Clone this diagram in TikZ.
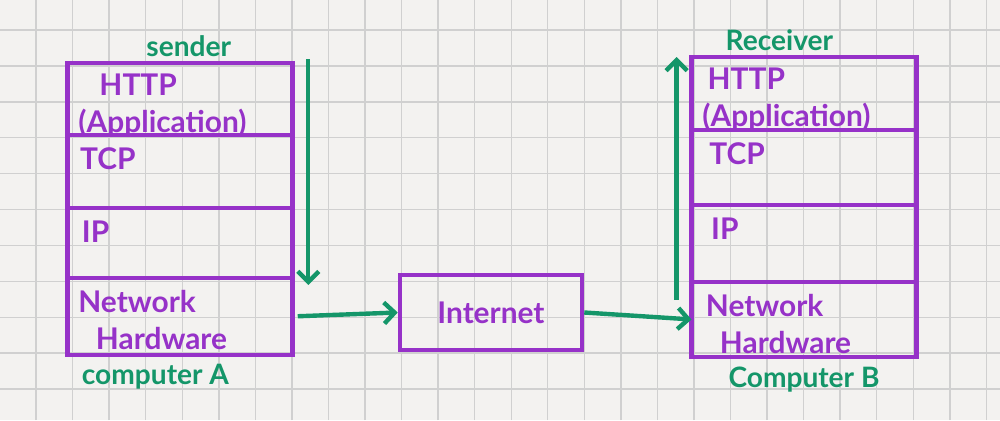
\documentclass[tikz,border=0pt]{standalone}
\usepackage{fontspec}
\setmainfont{Lato}
\usetikzlibrary{positioning,arrows.meta}
\definecolor{pen}{RGB}{150,50,200}
\definecolor{ink}{RGB}{20,150,105}
\definecolor{paper}{RGB}{243,242,240}
\definecolor{rule}{RGB}{208,208,208}
\begin{document}
\begin{tikzpicture}[x=0.02cm,y=0.02cm,
  layer/.style={draw=pen,line width=2.6pt,minimum width=4.5cm,outer sep=0pt,inner sep=0pt},
  box/.style={draw=pen,line width=2.6pt,minimum width=3.64cm,minimum height=1.5cm,text=pen,font=\bfseries\fontsize{17}{21}\selectfont},
  txt/.style={text=pen,font=\bfseries\fontsize{17}{21}\selectfont,align=left,anchor=north west,inner sep=0pt},
  tag/.style={text=ink,font=\bfseries\fontsize{16}{20}\selectfont},
  arrow/.style={draw=ink,line width=2.5pt,>={Straight Barb[length=6pt,width=12pt]},->}]
\useasboundingbox (0,0) rectangle (1000,420);
\fill[paper] (0,0) rectangle (1000,420);
% graph paper
\foreach \gx in {1,2,...,27} \draw[rule,line width=0.8pt] (-0.5+36.55*\gx,0)--(-0.5+36.55*\gx,420);
\foreach \gy in {0,1,...,11} \draw[rule,line width=0.8pt] (0,390-35.9*\gy)--(1000,390-35.9*\gy);

% computer A
\node[layer,minimum height=1.44cm] (s1) at (180,321) {};
\node[layer,minimum height=1.46cm,below=0pt of s1] (s2) {};
\node[layer,minimum height=1.40cm,below=0pt of s2] (s3) {};
\node[layer,minimum height=1.54cm,below=0pt of s3] (s4) {};
\node[txt] (s1t) at ([xshift=6pt,yshift=-6pt]s1.north west) {\hspace*{12pt}HTTP\\(Application)};
\node[txt] (s2t) at ([xshift=7pt,yshift=-7pt]s2.north west) {TCP};
\node[txt] (s3t) at ([xshift=8pt,yshift=-7pt]s3.north west) {IP};
\node[txt] (s4t) at ([xshift=6pt,yshift=-7pt]s4.north west) {Network\\\hspace*{10pt}Hardware};
\node[tag,above=0pt of s1,xshift=5pt] (snd) {sender};
\node[tag,below=2pt of s4,xshift=-14pt] (ca) {computer A};

% computer B
\node[layer,minimum height=1.46cm] (r1) at (804,326.5) {};
\node[layer,minimum height=1.50cm,below=0pt of r1] (r2) {};
\node[layer,minimum height=1.54cm,below=0pt of r2] (r3) {};
\node[layer,minimum height=1.50cm,below=0pt of r3] (r4) {};
\node[txt] (r1t) at ([xshift=6pt,yshift=-6pt]r1.north west) {\hspace*{3pt}HTTP\\(Application)};
\node[txt] (r2t) at ([xshift=10pt,yshift=-7pt]r2.north west) {TCP};
\node[txt] (r3t) at ([xshift=11pt,yshift=-7pt]r3.north west) {IP};
\node[txt] (r4t) at ([xshift=8pt,yshift=-7pt]r4.north west) {Network\\\hspace*{8pt}Hardware};
\node[tag,above=0pt of r1,xshift=-14pt] (rcv) {Receiver};
\node[tag,below=2pt of r4] (cb) {Computer B};

\node[box] (net) at (491,107.5) {Internet};

\draw[arrow] ([xshift=9pt,yshift=2pt]s1.north east)--([xshift=9pt,yshift=-4pt]s4.north east);
\draw[arrow,shorten <=3pt] (s4.east)--(net.west);
\draw[arrow] (net.east)--(r4.west);
\draw[arrow] ([xshift=-8.5pt,yshift=-10pt]r4.north west)--([xshift=-8.5pt]r1.north west);
\end{tikzpicture}
\end{document}
